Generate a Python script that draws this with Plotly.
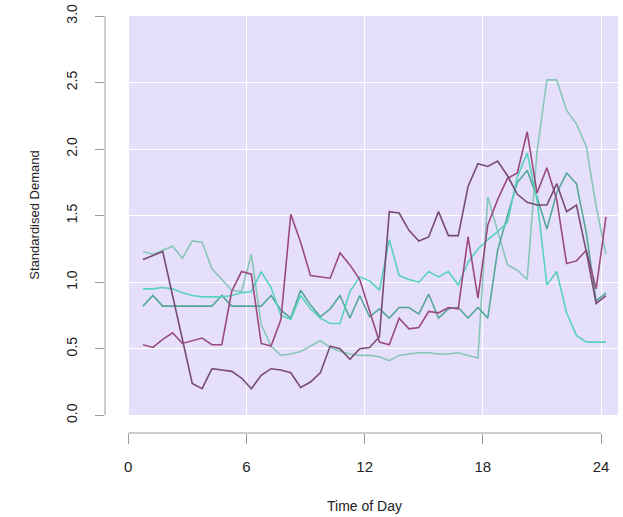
import plotly.graph_objects as go

# half-hourly sample times (hours)
hours = [0.75 + 0.5 * i for i in range(48)]

p1 = [1.17, 1.20, 1.23, 0.90, 0.57, 0.24, 0.20, 0.35, 0.34, 0.33, 0.28, 0.20,
      0.30, 0.35, 0.34, 0.32, 0.21, 0.25, 0.32, 0.52, 0.50, 0.42, 0.50, 0.51,
      0.59, 1.53, 1.52, 1.39, 1.31, 1.34, 1.53, 1.35, 1.35, 1.72, 1.89, 1.87,
      1.91, 1.80, 1.66, 1.60, 1.58, 1.58, 1.74, 1.53, 1.58, 1.23, 0.84, 0.90]

p2 = [0.53, 0.51, 0.57, 0.62, 0.54, 0.56, 0.58, 0.53, 0.53, 0.93, 1.08, 1.06,
      0.54, 0.52, 0.72, 1.51, 1.30, 1.05, 1.04, 1.03, 1.22, 1.13, 1.02, 0.79,
      0.55, 0.53, 0.73, 0.65, 0.66, 0.78, 0.77, 0.81, 0.80, 1.34, 0.88, 1.43,
      1.62, 1.78, 1.82, 2.13, 1.67, 1.86, 1.62, 1.14, 1.16, 1.24, 0.95, 1.49]

t1 = [1.23, 1.21, 1.24, 1.27, 1.18, 1.31, 1.30, 1.10, 1.02, 0.94, 0.93, 1.21,
      0.68, 0.52, 0.45, 0.46, 0.48, 0.52, 0.56, 0.51, 0.48, 0.46, 0.45, 0.45,
      0.44, 0.41, 0.45, 0.46, 0.47, 0.47, 0.46, 0.46, 0.47, 0.45, 0.43, 1.64,
      1.39, 1.13, 1.09, 1.02, 1.98, 2.52, 2.52, 2.29, 2.19, 2.02, 1.57, 1.21]

t2 = [0.95, 0.95, 0.96, 0.95, 0.92, 0.90, 0.89, 0.89, 0.89, 0.90, 0.92, 0.93,
      1.08, 0.96, 0.75, 0.72, 0.90, 0.80, 0.73, 0.69, 0.69, 0.93, 1.04, 1.01,
      0.94, 1.32, 1.05, 1.02, 1.00, 1.08, 1.04, 1.08, 0.98, 1.15, 1.25, 1.32,
      1.38, 1.45, 1.79, 1.97, 1.62, 0.98, 1.08, 0.77, 0.60, 0.55, 0.55, 0.55]

t3 = [0.82, 0.90, 0.82, 0.82, 0.82, 0.82, 0.82, 0.82, 0.90, 0.82, 0.82, 0.82,
      0.82, 0.90, 0.79, 0.73, 0.94, 0.83, 0.74, 0.80, 0.90, 0.73, 0.90, 0.74,
      0.80, 0.73, 0.81, 0.81, 0.76, 0.91, 0.73, 0.80, 0.81, 0.73, 0.81, 0.73,
      1.24, 1.50, 1.75, 1.84, 1.64, 1.40, 1.67, 1.82, 1.74, 1.37, 0.86, 0.92]

series = [("t1", t1, "#88c6b8"), ("t3", t3, "#55a898"), ("t2", t2, "#58d2bc"),
          ("p2", p2, "#9a4a7c"), ("p1", p1, "#764b76")]

x_ticks = [0, 6, 12, 18, 24]
y_ticks = [0.0, 0.5, 1.0, 1.5, 2.0, 2.5, 3.0]
y_tick_labels = ["0.0", "0.5", "1.0", "1.5", "2.0", "2.5", "3.0"]

fig = go.Figure()
for name, vals, col in series:
    fig.add_trace(go.Scatter(x=hours, y=vals, mode="lines", name=name,
                             line=dict(color=col, width=1.6), showlegend=False))

X_MAX = 24.86
Y_BOT = -0.133
X_LEFT = -1.18

fig.update_layout(
    width=623, height=517,
    margin=dict(l=105, r=5, t=16, b=84),
    paper_bgcolor="white", plot_bgcolor="white",
    font=dict(family="Liberation Sans, Arial", color="#222222"),
    shapes=[
        dict(type="rect", xref="x", yref="y", x0=0, x1=X_MAX, y0=0, y1=3,
             fillcolor="#E6DFFB", line=dict(width=0), layer="below"),
        dict(type="line", xref="x", yref="paper", x0=0, x1=24, y0=0, y1=0,
             line=dict(color="#9a9a9a", width=1)),
        dict(type="line", xref="paper", yref="y", x0=0, x1=0, y0=0, y1=3,
             line=dict(color="#9a9a9a", width=1)),
    ],
    annotations=[
        dict(text="Time of Day", xref="x", yref="paper", x=12, y=0,
             yanchor="middle", yshift=-73, showarrow=False,
             font=dict(size=14, color="#222222")),
        dict(text="Standardised Demand", xref="paper", yref="y", x=0, y=1.5,
             xanchor="center", xshift=-70, textangle=-90, showarrow=False,
             font=dict(size=13, color="#222222")),
    ],
)
fig.update_xaxes(range=[X_LEFT, X_MAX], tickvals=x_ticks, ticktext=[str(v) for v in x_ticks],
                 showgrid=True, gridcolor="white", gridwidth=1, zeroline=False,
                 showline=False, ticks="outside", ticklen=10, tickcolor="#9a9a9a",
                 tickfont=dict(size=15, color="#222222"), ticklabelstandoff=10)
fig.update_yaxes(range=[Y_BOT, 3.0], tickvals=y_ticks, ticktext=y_tick_labels,
                 showgrid=True, gridcolor="white", gridwidth=1, zeroline=False,
                 showline=False, ticks="outside", ticklen=9, tickcolor="#9a9a9a",
                 tickangle=-90, tickfont=dict(size=14, color="#222222"),
                 ticklabelstandoff=12, ticklabeloverflow="allow")

# remove the browser's default 8px page margin so the figure sits at the corner
fig.write_html("out.html", config={"displayModeBar": False},
               post_script="document.body.style.margin='0';")
